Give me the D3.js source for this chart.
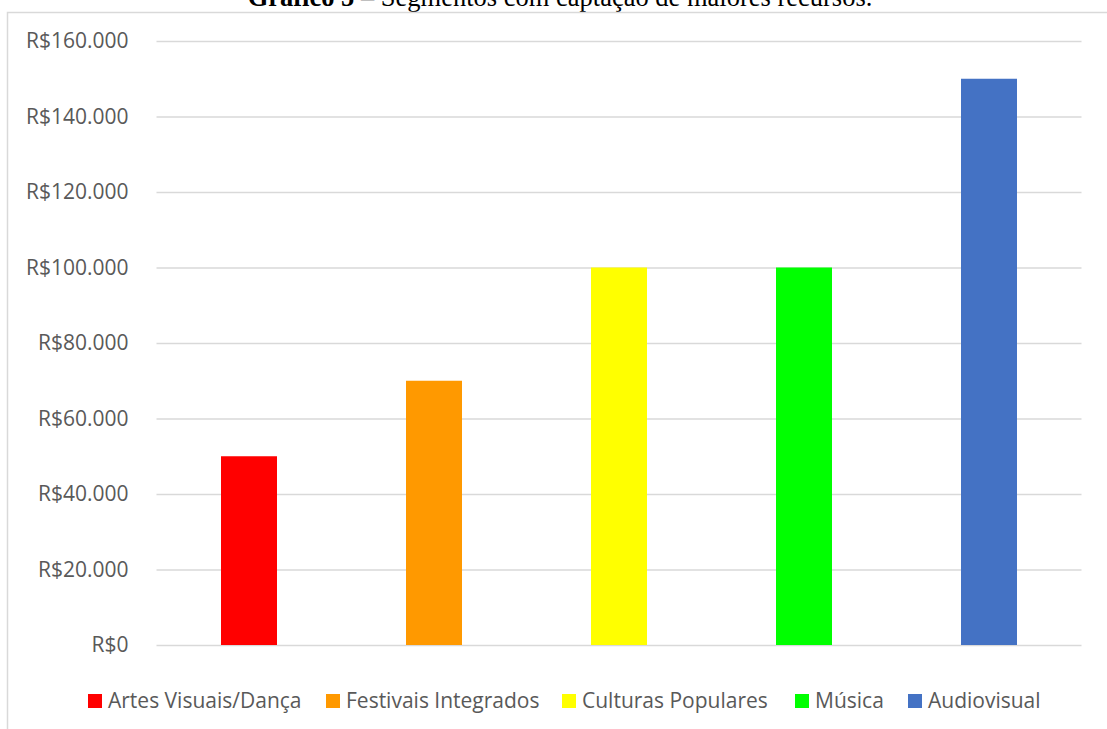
<!DOCTYPE html>
<html>
<head>
<meta charset="utf-8">
<script src="https://cdn.jsdelivr.net/npm/d3@7"></script>
<style>
  html, body { margin: 0; padding: 0; background: #fff; }
  svg { display: block; }
</style>
</head>
<body>
<svg id="chart" width="1107" height="729"></svg>
<script>
// Segments and the funds raised by each (R$)
const categories = ["Artes Visuais/Dança", "Festivais Integrados", "Culturas Populares", "Música", "Audiovisual"];
const values = [50000, 70000, 100000, 100000, 150000];
const colors = ["#ff0000", "#ff9900", "#ffff00", "#00ff00", "#4472c4"];
const yTicks = [0, 20000, 40000, 60000, 80000, 100000, 120000, 140000, 160000];
const titleBold = "Gráfico 5";
const titleRest = " – Segmentos com captação de maiores recursos.";

const svg = d3.select("#chart");
const font = "'Open Sans', sans-serif";
const textColor = "#595959";
const gridColor = "#d9d9d9";

const plot = { left: 156.5, right: 1081.5, top: 41, bottom: 645 };

// Title above the chart frame
svg.append("text")
  .attr("x", 560).attr("y", 6)
  .attr("text-anchor", "middle")
  .attr("font-family", "'Liberation Serif', 'Times New Roman', serif")
  .attr("font-size", 26.5)
  .attr("fill", "#000")
  .call(t => {
    t.append("tspan").attr("font-weight", "bold").text(titleBold);
    t.append("tspan").text(titleRest);
  });

// Chart frame
svg.append("rect")
  .attr("x", 7.5).attr("y", 12.5)
  .attr("width", 1120).attr("height", 740)
  .attr("fill", "none")
  .attr("stroke", gridColor)
  .attr("stroke-width", 1.5);

const x = d3.scaleBand()
  .domain(categories)
  .range([plot.left, plot.right])
  .paddingInner(0.6973)
  .paddingOuter(0.6973 / 2);

const y = d3.scaleLinear()
  .domain([0, 160000])
  .range([plot.bottom, plot.top]);

const fmt = v => "R$" + d3.format(",")(v).replace(/,/g, ".");

// Horizontal gridlines and value labels
const yAxis = d3.axisLeft(y)
  .tickValues(yTicks)
  .tickSize(-(plot.right - plot.left))
  .tickPadding(28)
  .tickFormat(fmt);

const gy = svg.append("g")
  .attr("transform", `translate(${plot.left},0)`)
  .call(yAxis);
gy.select(".domain").remove();
gy.selectAll(".tick line").attr("stroke", gridColor).attr("stroke-width", 1.5);
gy.selectAll(".tick text")
  .attr("fill", textColor)
  .attr("font-family", font)
  .attr("font-size", 21);

// Bars
svg.append("g")
  .selectAll("rect")
  .data(categories)
  .join("rect")
  .attr("x", d => x(d))
  .attr("y", (d, i) => y(values[i]))
  .attr("width", x.bandwidth())
  .attr("height", (d, i) => y(0) - y(values[i]))
  .attr("fill", (d, i) => colors[i]);

// Legend
const legendX = [88, 326, 562, 795, 908];
const legend = svg.append("g")
  .selectAll("g")
  .data(categories)
  .join("g")
  .attr("transform", (d, i) => `translate(${legendX[i]},694)`);
legend.append("rect")
  .attr("width", 14).attr("height", 14)
  .attr("fill", (d, i) => colors[i]);
legend.append("text")
  .attr("x", 20).attr("y", 14)
  .attr("fill", textColor)
  .attr("font-family", font)
  .attr("font-size", 21)
  .text(d => d);
</script>
</body>
</html>
